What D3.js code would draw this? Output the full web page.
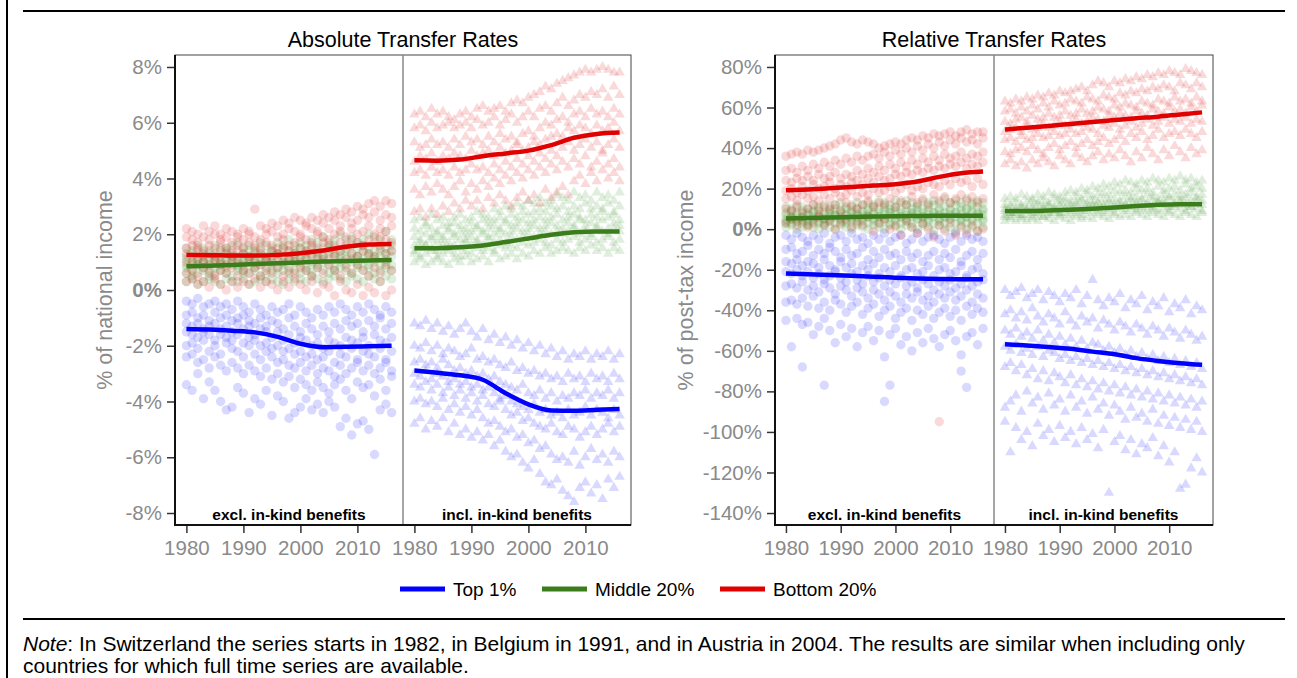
<!DOCTYPE html>
<html>
<head>
<meta charset="utf-8">
<script src="https://cdn.jsdelivr.net/npm/d3@7"></script>
<style>
  body { margin: 0; background: #fff; }
  svg { display: block; font-family: "Liberation Sans", Arial, Helvetica, sans-serif; }
</style>
</head>
<body>
<svg id="chart" width="1297" height="678"></svg>
<script>
// one row per year starting at firstYear, one value per country
const firstYear = 1980;
const tickYears = [1980, 1990, 2000, 2010];
const smoothYears = [1980, 1984, 1988, 1992, 1996, 2000, 2004, 2008, 2012, 2016];
const absTicks = [-8, -6, -4, -2, 0, 2, 4, 6, 8];
const relTicks = [-140, -120, -100, -80, -60, -40, -20, 0, 20, 40, 60, 80];
const groups = ["Top 1%", "Middle 20%", "Bottom 20%"];

// ---- absolute, excl. in-kind (% of national income)
const absExclTop = [
  "-0.4 -0.9 -1.2 -1.5 -2.0 -2.4 -3.4", "-0.5 -0.8 -1.3 -1.6 -1.9 -2.3 -3.6", "-0.3 -1.0 -1.2 -1.7 -2.1 -2.6 -3.0",
  "-0.6 -0.9 -1.4 -1.5 -1.8 -2.5 -3.9", "-0.5 -1.1 -1.3 -1.6 -2.2 -2.8 -3.3", "-0.4 -0.8 -1.2 -1.8 -2.0 -2.4 -3.6",
  "-0.6 -1.0 -1.4 -1.6 -2.3 -2.7 -4.0", "-0.5 -0.9 -1.3 -1.7 -1.9 -2.9 -4.3", "-0.7 -1.1 -1.5 -1.8 -2.1 -2.6 -4.2",
  "-0.4 -1.0 -1.2 -1.6 -2.2 -2.8 -3.5", "-0.6 -0.9 -1.4 -1.9 -2.4 -3.0 -3.7", "-0.8 -1.1 -1.3 -1.7 -2.0 -2.7 -4.4",
  "-0.5 -1.2 -1.6 -1.8 -2.3 -2.9 -3.9", "-0.7 -1.0 -1.4 -2.0 -2.5 -3.1 -4.1", "-0.9 -1.3 -1.5 -1.9 -2.2 -2.8 -3.6",
  "-0.6 -1.1 -1.7 -2.1 -2.4 -3.2 -4.5", "-0.8 -1.2 -1.5 -2.0 -2.6 -3.0 -3.8", "-0.7 -1.4 -1.8 -2.2 -2.5 -3.3 -4.0",
  "-0.5 -1.0 -1.6 -2.1 -2.7 -3.1 -4.6", "-0.9 -1.3 -1.9 -2.3 -2.8 -3.5 -4.4", "-0.6 -1.5 -1.7 -2.2 -2.6 -3.2 -4.2",
  "-0.8 -1.2 -1.8 -2.4 -2.9 -3.4 -3.9", "-1.0 -1.4 -2.0 -2.3 -2.7 -3.6 -4.3", "-0.7 -1.6 -1.9 -2.5 -3.0 -3.3 -4.1",
  "-0.9 -1.3 -2.1 -2.4 -2.8 -3.5 -4.4", "-0.6 -1.5 -1.8 -2.2 -2.9 -3.7 -4.0", "-0.8 -1.2 -1.9 -2.6 -3.1 -3.4 -4.2",
  "-0.5 -1.4 -2.0 -2.3 -2.7 -3.2 -4.9", "-0.7 -1.1 -1.7 -2.4 -3.0 -3.6 -4.6", "-0.9 -1.3 -1.8 -2.1 -2.8 -3.9 -5.2",
  "-0.6 -1.2 -1.9 -2.5 -2.6 -3.3 -4.8", "-0.8 -1.5 -1.7 -2.2 -2.9 -3.5 -4.7", "-0.5 -1.1 -2.0 -2.3 -2.7 -3.4 -5.0",
  "-0.7 -1.3 -1.6 -2.4 -3.0 -3.8 -5.9", "-0.9 -1.0 -1.8 -2.1 -2.8 -3.2 -4.3", "-0.6 -1.4 -1.9 -2.5 -2.6 -3.6 -4.1",
  "-0.8 -1.2 -1.7 -2.2 -2.9 -3.1 -4.4"
];
const absExclMid = [
  "0.3 0.6 0.8 0.9 1.1 1.2 1.5", "0.4 0.5 0.7 1.0 1.0 1.3 1.4", "0.2 0.6 0.9 0.9 1.1 1.2 1.6", "0.3 0.7 0.8 1.0 1.0 1.3 1.5",
  "0.4 0.5 0.7 0.9 1.2 1.1 1.4", "0.3 0.6 0.8 1.0 1.1 1.3 1.6", "0.2 0.7 0.9 0.9 1.0 1.2 1.5", "0.4 0.6 0.8 1.1 1.1 1.4 1.5",
  "0.3 0.5 0.9 1.0 1.2 1.3 1.6", "0.3 0.7 0.8 0.9 1.1 1.2 1.7", "0.4 0.6 0.7 1.0 1.0 1.3 1.5", "0.2 0.6 0.9 1.1 1.2 1.4 1.6",
  "0.3 0.7 0.8 1.0 1.1 1.3 1.5", "0.4 0.5 0.9 1.0 1.2 1.4 1.7", "0.3 0.6 0.8 1.1 1.1 1.3 1.6", "0.4 0.7 0.9 1.0 1.2 1.4 1.5",
  "0.3 0.6 0.8 1.1 1.3 1.3 1.7", "0.2 0.7 0.9 1.0 1.2 1.5 1.6", "0.4 0.6 0.8 1.1 1.1 1.4 1.8", "0.3 0.7 1.0 1.0 1.3 1.4 1.6",
  "0.4 0.6 0.9 1.1 1.2 1.5 1.7", "0.3 0.7 0.8 1.2 1.3 1.4 1.6", "0.5 0.6 0.9 1.0 1.2 1.5 1.8", "0.4 0.8 0.9 1.1 1.3 1.4 1.7",
  "0.3 0.7 1.0 1.2 1.2 1.5 1.9", "0.4 0.6 0.9 1.1 1.4 1.5 1.7", "0.5 0.7 0.8 1.2 1.3 1.6 1.8", "0.4 0.8 1.0 1.1 1.2 1.4 2.0",
  "0.3 0.7 0.9 1.2 1.4 1.5 1.8", "0.5 0.6 1.0 1.1 1.3 1.6 1.9", "0.4 0.8 0.9 1.2 1.2 1.5 1.7", "0.3 0.7 1.0 1.1 1.4 1.6 1.8",
  "0.5 0.8 0.9 1.2 1.3 1.5 2.0", "0.4 0.6 1.0 1.1 1.2 1.4 1.9", "0.3 0.7 0.9 1.2 1.4 1.6 1.8", "0.5 0.8 1.0 1.1 1.3 1.5 2.1",
  "0.4 0.7 0.9 1.2 1.4 1.6 1.8"
];
const absExclBot = [
  "0.3 0.6 1.0 1.3 1.5 1.9 2.2", "0.4 0.7 0.9 1.2 1.6 1.8 2.1", "0.2 0.5 1.1 1.4 1.5 1.7 2.0", "0.3 0.8 1.0 1.2 1.4 1.9 2.3",
  "0.1 0.6 0.9 1.3 1.6 1.8 2.1", "0.4 0.5 1.1 1.2 1.5 2.0 2.3", "0.2 0.7 1.0 1.4 1.7 1.8 2.0", "0.0 0.6 0.9 1.3 1.5 1.9 2.2",
  "0.3 0.8 1.1 1.2 1.4 1.7 2.1", "0.1 0.5 1.0 1.4 1.6 1.9 2.0", "0.3 0.7 0.9 1.3 1.5 1.8 2.2", "0.2 0.6 1.1 1.2 1.7 2.0 2.1",
  "0.4 0.8 1.0 1.4 1.6 1.9 2.9", "0.1 0.5 0.9 1.3 1.5 1.8 2.3", "0.3 0.7 1.1 1.2 1.7 2.0 2.2", "0.2 0.6 1.0 1.4 1.6 2.1 2.4",
  "0.0 0.8 1.2 1.3 1.5 1.9 2.3", "0.3 0.5 1.0 1.5 1.8 2.0 2.5", "0.1 0.7 1.1 1.4 1.6 2.2 2.4", "0.4 0.6 1.2 1.3 1.7 2.1 2.6",
  "0.2 0.8 1.0 1.5 1.9 2.0 2.5", "0.0 0.7 1.1 1.4 1.8 2.3 2.4", "0.3 0.5 1.3 1.6 1.7 2.2 2.6", "-0.1 0.8 1.2 1.5 2.0 2.1 2.5",
  "0.2 0.6 1.1 1.7 1.9 2.4 2.7", "0.1 0.9 1.3 1.6 1.8 2.2 2.6", "-0.2 0.7 1.2 1.5 2.0 2.5 2.8", "0.3 0.5 1.4 1.7 2.1 2.3 2.7",
  "0.0 0.8 1.1 1.6 1.9 2.6 2.9", "-0.1 0.6 1.3 1.8 2.2 2.4 2.8", "0.2 0.9 1.2 1.7 2.0 2.5 3.0", "-0.2 0.7 1.4 1.6 2.1 2.7 2.9",
  "0.1 0.5 1.3 1.8 2.3 2.6 3.1", "-0.1 0.8 1.2 1.7 2.0 2.8 3.2", "0.3 0.6 1.5 1.9 2.2 2.5 3.0", "-0.2 0.9 1.3 1.8 2.1 2.7 3.2",
  "0.0 0.7 1.4 1.7 2.3 2.6 3.1"
];

// ---- absolute, incl. in-kind
const absInclTop = [
  "-1.2 -2.0 -2.6 -3.0 -3.4 -4.0 -4.8", "-1.3 -2.1 -2.5 -3.1 -3.5 -3.9 -4.6", "-1.1 -1.9 -2.7 -2.9 -3.3 -4.1 -5.0",
  "-1.4 -2.2 -2.6 -3.2 -3.6 -4.0 -4.7", "-1.2 -2.0 -2.8 -3.0 -3.4 -4.2 -4.9", "-1.5 -2.3 -2.5 -3.1 -3.7 -3.9 -4.6",
  "-1.3 -2.1 -2.7 -3.3 -3.5 -4.3 -5.1", "-1.6 -2.2 -2.9 -3.2 -3.8 -4.1 -4.8", "-1.4 -2.4 -2.8 -3.4 -3.6 -4.4 -5.2",
  "-1.2 -2.3 -3.0 -3.3 -3.9 -4.2 -5.0", "-1.5 -2.1 -2.9 -3.5 -3.7 -4.5 -5.3", "-1.7 -2.5 -3.1 -3.4 -4.0 -4.3 -5.1",
  "-1.4 -2.4 -3.0 -3.6 -3.8 -4.6 -5.4", "-1.8 -2.6 -3.2 -3.5 -4.1 -4.8 -5.2", "-1.6 -2.5 -3.1 -3.7 -4.2 -4.7 -5.6",
  "-1.9 -2.7 -3.3 -3.9 -4.0 -4.9 -5.4", "-1.7 -2.8 -3.4 -3.8 -4.3 -5.1 -5.8", "-2.0 -2.6 -3.5 -4.0 -4.5 -5.0 -6.0",
  "-1.8 -2.9 -3.6 -4.1 -4.4 -5.3 -5.9", "-2.1 -2.8 -3.4 -4.2 -4.7 -5.2 -6.2", "-1.9 -3.0 -3.7 -4.3 -4.6 -5.5 -6.4",
  "-2.2 -2.9 -3.8 -4.1 -4.8 -5.4 -6.1", "-2.0 -3.1 -3.6 -4.4 -4.9 -5.7 -6.6", "-2.3 -3.0 -3.9 -4.3 -5.0 -5.6 -6.9",
  "-2.1 -3.2 -3.7 -4.5 -4.8 -5.9 -7.0", "-2.4 -3.1 -4.0 -4.4 -5.1 -6.1 -6.8", "-2.2 -3.3 -3.8 -4.6 -5.2 -6.0 -7.2",
  "-2.5 -3.0 -3.9 -4.3 -4.9 -6.2 -7.4", "-2.3 -3.2 -3.7 -4.5 -5.0 -5.8 -7.6", "-2.4 -3.1 -3.8 -4.4 -5.3 -6.3 -7.1",
  "-2.2 -3.3 -3.6 -4.2 -5.1 -6.0 -6.9", "-2.5 -3.0 -3.9 -4.5 -4.9 -5.7 -7.3", "-2.3 -3.2 -3.7 -4.3 -5.2 -6.1 -7.0",
  "-2.4 -3.1 -3.8 -4.4 -5.0 -5.9 -7.5", "-2.2 -3.3 -3.6 -4.6 -4.8 -6.2 -6.8", "-2.5 -3.0 -3.9 -4.3 -5.1 -5.8 -7.1",
  "-2.3 -3.2 -3.7 -4.5 -4.9 -6.0 -6.7"
];
const absInclMid = [
  "1.0 1.3 1.4 1.6 1.9 2.2 2.5", "1.1 1.2 1.5 1.7 1.8 2.1 2.6", "0.9 1.3 1.6 1.6 2.0 2.3 2.4", "1.0 1.4 1.5 1.8 1.9 2.2 2.7",
  "1.1 1.2 1.4 1.7 2.0 2.1 2.5", "1.0 1.3 1.6 1.8 1.9 2.3 2.6", "0.9 1.4 1.5 1.7 2.1 2.2 2.4", "1.1 1.3 1.6 1.9 2.0 2.4 2.6",
  "1.0 1.2 1.5 1.8 2.1 2.3 2.7", "1.2 1.4 1.7 1.8 2.0 2.2 2.5", "1.0 1.3 1.6 1.9 2.1 2.4 2.6", "1.1 1.5 1.7 1.8 2.2 2.3 2.8",
  "1.2 1.4 1.6 2.0 2.1 2.5 2.7", "1.0 1.5 1.8 1.9 2.2 2.4 2.6", "1.3 1.4 1.7 2.0 2.3 2.5 2.9", "1.1 1.6 1.8 2.1 2.2 2.6 2.8",
  "1.2 1.5 1.7 2.0 2.4 2.5 3.0", "1.3 1.6 1.9 2.1 2.3 2.7 2.9", "1.1 1.5 1.8 2.2 2.4 2.6 3.1", "1.3 1.7 1.9 2.1 2.5 2.8 3.0",
  "1.2 1.6 2.0 2.2 2.4 2.7 3.2", "1.4 1.7 1.9 2.3 2.5 2.8 3.1", "1.3 1.8 2.0 2.2 2.6 2.9 3.3", "1.5 1.7 2.1 2.3 2.5 2.8 3.1",
  "1.3 1.6 2.0 2.4 2.6 3.0 3.2", "1.4 1.8 2.1 2.3 2.7 2.9 3.4", "1.5 1.7 2.0 2.2 2.5 3.0 3.3", "1.4 1.8 2.1 2.4 2.6 2.8 3.2",
  "1.3 1.9 2.2 2.3 2.7 3.0 3.5", "1.5 1.7 2.0 2.5 2.6 2.9 3.3", "1.4 1.8 2.1 2.3 2.5 3.1 3.4", "1.6 1.9 2.0 2.4 2.7 2.9 3.2",
  "1.4 1.7 2.2 2.3 2.6 3.0 3.5", "1.5 1.8 2.1 2.5 2.8 2.9 3.3", "1.3 1.9 2.0 2.2 2.6 3.1 3.4", "1.5 1.7 2.2 2.4 2.7 2.8 3.2",
  "1.4 1.8 2.1 2.3 2.5 3.0 3.5"
];
const absInclBot = [
  "2.8 3.6 4.2 4.6 5.3 5.8 6.3", "2.9 3.4 4.3 4.8 5.1 5.9 6.4", "2.6 3.7 4.1 4.7 5.2 5.7 6.2", "2.9 3.5 4.4 4.9 5.4 6.0 6.5",
  "2.7 3.8 4.2 4.6 5.2 5.8 6.3", "3.0 3.6 4.3 4.8 5.3 5.9 6.4", "2.8 3.4 4.1 4.7 5.1 6.0 6.2", "3.1 3.7 4.4 4.9 5.4 5.8 6.1",
  "2.9 3.9 4.2 4.8 5.2 5.9 6.3", "3.2 3.5 4.3 4.7 5.5 6.0 6.4", "3.0 3.8 4.5 5.0 5.3 5.8 6.2", "3.2 3.6 4.3 4.8 5.4 6.1 6.5",
  "2.9 3.9 4.4 4.9 5.2 5.9 6.6", "3.3 3.7 4.2 5.0 5.5 6.0 6.4", "3.1 4.0 4.5 4.8 5.3 6.2 6.5", "3.4 3.8 4.3 5.1 5.6 5.9 6.6",
  "3.2 4.1 4.6 4.9 5.4 6.1 6.4", "3.0 3.9 4.4 5.0 5.5 6.3 6.7", "3.3 4.2 4.7 5.2 5.3 6.0 6.8", "3.5 4.0 4.5 5.0 5.6 6.2 6.7",
  "3.2 4.3 4.8 5.1 5.7 6.4 6.9", "3.4 4.1 4.6 5.3 5.5 6.2 7.0", "3.1 4.4 4.9 5.2 5.8 6.5 7.1", "3.6 4.2 4.7 5.4 6.0 6.6 7.3",
  "3.3 4.5 5.0 5.5 5.9 6.4 7.2", "3.5 4.3 4.8 5.6 6.1 6.7 7.4", "3.7 4.6 5.1 5.5 6.2 6.9 7.5", "3.4 4.4 5.3 5.8 6.0 6.6 7.6",
  "3.9 4.7 5.0 5.7 6.3 6.8 7.7", "4.1 4.5 5.2 5.9 6.4 7.0 7.8", "3.8 4.8 5.4 5.8 6.2 6.9 7.9", "4.2 4.4 5.1 5.6 6.5 7.1 7.8",
  "3.9 4.6 5.3 5.9 6.3 7.0 7.9", "4.3 4.9 5.0 5.7 6.4 7.2 8.0", "4.0 4.5 5.2 5.8 6.2 6.9 7.9", "4.2 4.7 5.4 6.0 6.5 7.3 7.8",
  "3.9 4.4 5.1 5.7 6.3 7.0 7.8"
];

// ---- relative, excl. in-kind (% of post-tax income)
const relExclTop = [
  "-3 -10 -16 -21 -28 -36 -45", "-5 -9 -17 -22 -27 -35 -58", "-2 -12 -15 -20 -29 -37 -44", "-4 -11 -18 -23 -26 -34 -47 -68",
  "-6 -8 -16 -21 -30 -38 -46", "-3 -13 -17 -24 -28 -33 -52", "-5 -10 -19 -22 -31 -39 -48", "-2 -12 -15 -25 -27 -36 -44 -77",
  "-7 -9 -18 -23 -29 -40 -50", "-4 -11 -20 -21 -32 -35 -56", "-3 -14 -16 -24 -28 -37 -47", "-6 -10 -19 -26 -30 -41 -53",
  "-2 -13 -17 -22 -33 -38 -49", "-5 -12 -21 -25 -29 -36 -58", "-4 -9 -18 -27 -31 -42 -51", "-7 -15 -20 -23 -34 -39 -48",
  "-3 -11 -17 -26 -30 -37 -55", "-5 -14 -22 -24 -32 -43 -50", "-2 -10 -19 -28 -35 -40 -63 -85", "-6 -13 -21 -25 -31 -38 -52 -77",
  "-4 -12 -18 -27 -33 -44 -49", "-3 -15 -23 -24 -36 -41 -57", "-7 -11 -20 -28 -32 -39 -53", "-5 -14 -19 -26 -34 -45 -60",
  "-2 -12 -22 -29 -31 -40 -51", "-6 -16 -21 -25 -35 -42 -56", "-4 -13 -18 -27 -33 -38 -49", "-3 -11 -23 -30 -36 -44 -54",
  "-5 -15 -20 -26 -32 -41 -58", "-7 -12 -19 -28 -34 -39 -52", "-4 -14 -22 -25 -31 -43 -50", "-2 -10 -21 -29 -35 -40 -55",
  "-6 -16 -18 -27 -33 -45 -62 -70", "-3 -13 -23 -24 -30 -38 -53 -78", "-5 -11 -20 -28 -36 -42 -51", "-4 -15 -19 -26 -32 -39 -57",
  "-6 -12 -22 -25 -34 -41 -49"
];
const relExclMid = [
  "1 3 4 5 7 8 11", "2 3 5 6 6 9 10", "0 4 4 5 7 8 12", "1 3 5 6 6 9 11", "2 2 4 5 7 8 10", "1 4 5 6 8 9 12",
  "0 3 4 6 7 10 11", "2 3 5 5 7 8 12", "1 4 5 6 8 9 11", "0 3 6 7 7 10 12", "2 4 5 6 8 9 13", "1 3 4 7 7 10 11",
  "0 4 5 6 8 9 12", "2 3 6 7 8 10 13", "1 4 5 6 7 9 12", "0 3 6 7 9 10 13", "2 4 5 7 8 11 12", "1 3 6 6 8 10 14",
  "0 4 5 7 9 11 13", "2 3 6 8 8 10 12", "1 4 5 7 9 11 14", "0 3 6 6 8 10 13", "2 4 5 7 9 12 14", "1 3 6 8 8 10 13",
  "0 5 5 7 9 11 12", "2 3 6 6 8 10 14", "1 4 5 7 9 11 13", "-1 3 6 8 8 12 14", "2 4 5 7 9 10 13", "0 3 6 6 8 11 15",
  "1 5 5 7 9 10 13", "-1 3 6 8 8 12 14", "2 4 5 7 9 11 13", "0 3 6 6 10 10 15", "1 4 5 8 9 12 13", "-1 3 6 7 8 11 14",
  "1 4 5 7 9 10 13"
];
const relExclBot = [
  "3 10 15 19 24 29 36", "5 9 16 20 23 30 37", "2 11 14 18 25 28 38", "4 8 17 21 24 31 37", "1 10 15 19 26 29 39",
  "3 12 16 22 24 32 38", "6 9 14 20 27 30 39", "2 11 17 21 25 33 40", "4 10 15 23 26 31 41", "0 12 18 20 28 34 42",
  "3 9 16 22 25 32 44", "5 13 17 21 27 35 45", "1 11 19 23 26 33 43", "4 10 16 24 29 36 42", "2 12 18 22 27 34 44",
  "6 14 17 25 30 36 43", "-1 11 20 23 28 37 42", "3 13 18 26 31 35 40", "5 12 19 24 29 38 41", "0 15 21 25 32 36 42",
  "2 11 18 27 30 39 43", "-3 14 20 26 33 37 42", "4 12 22 28 31 40 44", "1 16 19 27 34 38 45", "-2 13 21 29 32 41 44",
  "3 15 20 28 35 39 46", "0 12 23 30 33 42 45", "-4 17 22 29 36 40 47", "2 14 21 31 34 43 46 -95", "-1 16 24 30 37 41 47",
  "3 13 22 32 35 44 48", "-3 15 25 31 36 42 46", "1 17 23 33 38 45 48", "-2 14 24 30 35 43 49", "2 16 21 32 37 44 47",
  "-1 13 25 31 36 42 48", "0 15 22 33 38 45 48"
];

// ---- relative, incl. in-kind
const relInclTop = [
  "-30 -42 -50 -58 -68 -88 -95", "-33 -40 -52 -60 -66 -85 -110", "-31 -44 -49 -57 -70 -82 -98", "-29 -41 -53 -61 -67 -90 -104",
  "-34 -45 -51 -59 -72 -80 -100", "-32 -39 -54 -62 -69 -86 -107", "-30 -43 -50 -58 -74 -83 -96", "-35 -46 -55 -63 -70 -89 -102",
  "-31 -42 -52 -60 -75 -81 -99", "-33 -44 -56 -61 -71 -87 -105", "-36 -47 -53 -64 -73 -84 -97", "-32 -41 -57 -62 -76 -90 -103",
  "-34 -45 -54 -65 -72 -82 -100", "-30 -48 -58 -63 -77 -88 -106", "-37 -43 -55 -66 -74 -85 -98", "-33 -46 -59 -64 -78 -91 -104",
  "-25 -44 -56 -67 -75 -83 -101", "-35 -49 -57 -65 -79 -89 -108", "-38 -45 -60 -68 -76 -86 -99", "-34 -47 -58 -66 -80 -92 -130",
  "-36 -50 -61 -69 -77 -87 -105", "-32 -46 -59 -67 -81 -90 -102", "-39 -48 -62 -70 -78 -94 -109", "-35 -51 -60 -68 -82 -88 -104",
  "-37 -47 -63 -71 -79 -93 -111", "-33 -49 -61 -69 -83 -91 -106", "-40 -52 -64 -72 -80 -95 -108", "-36 -48 -62 -70 -84 -89 -103",
  "-38 -50 -65 -73 -81 -96 -112", "-34 -53 -63 -71 -85 -92 -107", "-41 -49 -66 -74 -82 -97 -115", "-37 -51 -64 -72 -86 -93 -110",
  "-39 -54 -67 -75 -83 -98 -128", "-35 -50 -65 -73 -87 -94 -126", "-42 -52 -68 -76 -84 -99 -118", "-38 -55 -66 -74 -88 -95 -113",
  "-40 -53 -69 -77 -85 -100 -120"
];
const relInclMid = [
  "4 6 7 9 10 12 15", "5 6 8 8 11 12 16", "4 7 8 9 10 13 15", "5 6 7 10 11 12 17", "4 7 9 9 10 13 16", "5 6 8 10 11 14 15",
  "4 7 8 9 12 13 17", "6 6 9 10 11 14 16", "5 7 8 11 12 13 18", "4 8 9 10 11 15 17", "6 7 8 11 12 14 16", "5 8 10 10 13 15 18",
  "4 7 9 11 12 14 19", "6 8 10 12 13 16 18", "5 7 9 11 14 15 20", "6 9 10 12 13 17 19", "5 8 11 12 14 16 21", "7 9 10 13 13 17 20",
  "6 8 11 12 15 18 22", "5 9 10 13 14 17 21", "7 8 11 12 15 19 23", "6 10 11 13 14 18 22", "7 9 12 12 16 19 24", "6 10 11 14 15 18 23",
  "8 9 12 13 16 20 22", "7 10 11 14 15 19 24", "6 9 12 13 17 20 23", "8 10 11 14 16 18 25", "7 9 13 13 15 21 24", "6 10 12 14 17 19 23",
  "8 9 11 15 16 20 25", "7 11 12 13 17 21 24", "6 10 13 14 16 19 26", "8 9 12 15 17 22 24", "7 11 11 14 18 20 25", "6 10 13 15 16 21 23",
  "8 9 12 14 17 20 24"
];
const relInclBot = [
  "32 38 44 48 53 58 63", "34 37 45 49 52 59 62", "31 39 43 50 54 57 64", "33 40 46 48 55 60 63", "30 38 44 51 53 58 65",
  "34 41 45 49 56 61 64", "32 39 47 50 54 59 66", "35 37 45 52 55 62 65", "33 40 46 50 57 60 67", "31 42 48 51 55 63 66",
  "36 39 46 53 56 61 68", "34 41 47 51 58 62 67", "32 43 49 52 56 64 68", "37 40 47 54 57 63 69", "35 42 48 52 59 62 70",
  "33 44 50 53 57 65 68", "36 41 49 55 58 64 71", "38 43 47 54 60 63 73", "34 45 51 53 59 66 72", "37 42 50 56 58 65 70",
  "35 44 52 55 61 64 73", "39 46 49 57 60 67 72", "36 43 51 56 62 66 74", "33 47 53 55 61 68 73", "38 45 50 58 60 67 75",
  "35 48 52 57 63 69 74", "40 44 54 56 62 68 76", "37 46 51 59 61 70 75", "34 49 53 58 64 69 77", "39 45 55 57 63 71 76",
  "36 47 52 60 62 70 78", "41 48 54 58 65 68 77", "38 46 53 59 63 72 76", "35 49 55 57 64 71 79", "40 47 52 60 62 69 78",
  "37 45 54 58 65 72 77", "39 48 53 61 63 70 76"
];

// smoothed averages at smoothYears
const absExclTopLine = [-1.40, -1.42, -1.46, -1.52, -1.68, -1.93, -2.05, -2.04, -2.02, -2.00];
const absExclMidLine = [0.85, 0.87, 0.90, 0.93, 0.96, 0.99, 1.02, 1.04, 1.06, 1.08];
const absExclBotLine = [1.26, 1.25, 1.24, 1.24, 1.26, 1.32, 1.42, 1.55, 1.63, 1.65];
const absInclTopLine = [-2.89, -2.97, -3.06, -3.22, -3.70, -4.10, -4.32, -4.33, -4.30, -4.27];
const absInclMidLine = [1.50, 1.50, 1.53, 1.60, 1.72, 1.85, 1.98, 2.07, 2.10, 2.10];
const absInclBotLine = [4.65, 4.64, 4.68, 4.80, 4.90, 5.00, 5.20, 5.46, 5.60, 5.65];
const relExclTopLine = [-21.9, -22.2, -22.6, -23.0, -23.5, -23.9, -24.3, -24.6, -24.7, -24.7];
const relExclMidLine = [5.3, 5.5, 5.8, 6.0, 6.2, 6.4, 6.5, 6.6, 6.6, 6.6];
const relExclBotLine = [19.2, 19.6, 20.2, 20.8, 21.5, 22.2, 23.5, 25.8, 27.6, 28.4];
const relInclTopLine = [-56.7, -57.4, -58.1, -59.0, -60.4, -61.7, -63.6, -65.0, -66.1, -66.9];
const relInclMidLine = [9.0, 9.0, 9.2, 9.6, 10.1, 10.7, 11.4, 12.0, 12.3, 12.3];
const relInclBotLine = [49.2, 50.0, 50.9, 51.9, 52.9, 53.8, 54.7, 55.5, 56.6, 57.6];

const lineColors = ["#0000ff", "#3a7d1a", "#e00000"];
const pointColors = ["#0000ff", "#2e8a1c", "#d40000"];

const svg = d3.select("#chart");

function toPoints(rows) {
    return rows.flatMap((r, i) => r.trim().split(/\s+/).map(v => ({year: firstYear + i, value: +v})));
}

const panels = [
    {
        title: "Absolute Transfer Rates", ylabel: "% of national income",
        left: 175, mid: 403, right: 631, labelX: 104,
        yDomain: [-8.43, 8.43], ticks: absTicks,
        excl: [absExclTop, absExclMid, absExclBot], incl: [absInclTop, absInclMid, absInclBot],
        exclLines: [absExclTopLine, absExclMidLine, absExclBotLine], inclLines: [absInclTopLine, absInclMidLine, absInclBotLine]
    },
    {
        title: "Relative Transfer Rates", ylabel: "% of post-tax income",
        left: 775, mid: 994, right: 1213, labelX: 685,
        yDomain: [-145.9, 85.9], ticks: relTicks,
        excl: [relExclTop, relExclMid, relExclBot], incl: [relInclTop, relInclMid, relInclBot],
        exclLines: [relExclTopLine, relExclMidLine, relExclBotLine], inclLines: [relInclTopLine, relInclMidLine, relInclBotLine]
    }
];

const plotTop = 55, plotBottom = 525;

panels.forEach(p => {
    let g = svg.append("g");
    let y = d3.scaleLinear().domain(p.yDomain).range([plotBottom, plotTop]);
    let subs = [
        {x: d3.scaleLinear().domain([1978, 2018]).range([p.left, p.mid]), clouds: p.excl, lines: p.exclLines,
            label: "excl. in-kind benefits", shape: "circle"},
        {x: d3.scaleLinear().domain([1978, 2018]).range([p.mid, p.right]), clouds: p.incl, lines: p.inclLines,
            label: "incl. in-kind benefits", shape: "triangle"}
    ];

    g.append("rect")
        .attr("x", p.left).attr("y", plotTop)
        .attr("width", p.right - p.left).attr("height", plotBottom - plotTop)
        .attr("fill", "none").attr("stroke", "#444").attr("stroke-width", 1);

    subs.forEach(s => {
        s.clouds.forEach((rows, gi) => {
            let pts = toPoints(rows);
            if (s.shape === "circle") {
                g.append("g").selectAll("circle")
                    .data(pts).join("circle")
                    .attr("cx", d => s.x(d.year))
                    .attr("cy", d => y(d.value))
                    .attr("r", 4.7)
                    .attr("fill", pointColors[gi])
                    .attr("fill-opacity", 0.15);
            } else {
                let sym = d3.symbol(d3.symbolTriangle, 48);
                g.append("g").selectAll("path")
                    .data(pts).join("path")
                    .attr("d", sym)
                    .attr("transform", d => "translate(" + s.x(d.year) + "," + y(d.value) + ")")
                    .attr("fill", pointColors[gi])
                    .attr("fill-opacity", 0.15);
            }
        });
        let line = d3.line()
            .x((d, i) => s.x(smoothYears[i]))
            .y(d => y(d))
            .curve(d3.curveMonotoneX);
        s.lines.forEach((vals, gi) => {
            g.append("path")
                .attr("d", line(vals))
                .attr("fill", "none")
                .attr("stroke", lineColors[gi])
                .attr("stroke-width", 4.5);
        });

        let xa = g.append("g")
            .attr("transform", "translate(0," + plotBottom + ")")
            .call(d3.axisBottom(s.x).tickValues(tickYears).tickFormat(d3.format("d")).tickSize(8).tickPadding(7));
        xa.select(".domain").remove();
        xa.selectAll(".tick line").attr("stroke", "#333").attr("stroke-width", 1.5);
        xa.selectAll("text").attr("fill", "#8a8a8a").style("font-size", "20.5px");

        g.append("text")
            .attr("x", (s.x.range()[0] + s.x.range()[1]) / 2)
            .attr("y", 520)
            .attr("text-anchor", "middle")
            .style("font-size", "15.5px").style("font-weight", "bold")
            .text(s.label);
    });

    g.append("line")
        .attr("x1", p.mid).attr("x2", p.mid).attr("y1", plotTop).attr("y2", plotBottom)
        .attr("stroke", "#888").attr("stroke-width", 1.5);

    let ya = g.append("g")
        .attr("transform", "translate(" + p.left + ",0)")
        .call(d3.axisLeft(y).tickValues(p.ticks).tickFormat(d => d + "%").tickSize(8).tickPadding(5));
    ya.select(".domain").remove();
    ya.selectAll(".tick line").attr("stroke", "#333").attr("stroke-width", 1.5);
    ya.selectAll("text").attr("fill", "#8a8a8a").style("font-size", "20.5px")
        .style("font-weight", d => d === 0 ? "bold" : "normal");

    // axis lines
    g.append("line").attr("x1", p.left).attr("x2", p.left).attr("y1", plotTop).attr("y2", plotBottom + 1)
        .attr("stroke", "#111").attr("stroke-width", 2);
    g.append("line").attr("x1", p.left - 1).attr("x2", p.right).attr("y1", plotBottom).attr("y2", plotBottom)
        .attr("stroke", "#111").attr("stroke-width", 2);

    g.append("text")
        .attr("x", (p.left + p.right) / 2).attr("y", 47)
        .attr("text-anchor", "middle")
        .style("font-size", "21.5px")
        .text(p.title);

    g.append("text")
        .attr("transform", "translate(" + p.labelX + "," + (plotTop + plotBottom) / 2 + ") rotate(-90)")
        .attr("text-anchor", "middle")
        .attr("dy", "0.35em")
        .attr("fill", "#8a8a8a")
        .style("font-size", "21.5px")
        .text(p.ylabel);
});

// legend
const legendX = [400, 542, 720];
let lg = svg.append("g");
groups.forEach((name, i) => {
    lg.append("line")
        .attr("x1", legendX[i]).attr("x2", legendX[i] + 45)
        .attr("y1", 589).attr("y2", 589)
        .attr("stroke", lineColors[i]).attr("stroke-width", 5);
    lg.append("text")
        .attr("x", legendX[i] + 53).attr("y", 596)
        .style("font-size", "19px")
        .text(name);
});

// outer rules
svg.append("line").attr("x1", 7).attr("x2", 7).attr("y1", 0).attr("y2", 678)
    .attr("stroke", "#000").attr("stroke-width", 2);
svg.append("line").attr("x1", 23).attr("x2", 1285).attr("y1", 11).attr("y2", 11)
    .attr("stroke", "#000").attr("stroke-width", 2);
svg.append("line").attr("x1", 23).attr("x2", 1285).attr("y1", 619).attr("y2", 619)
    .attr("stroke", "#000").attr("stroke-width", 2);

// note
let note = svg.append("text").attr("x", 23).attr("y", 651).style("font-size", "21px");
note.append("tspan").style("font-style", "italic").text("Note");
note.append("tspan").text(": In Switzerland the series starts in 1982, in Belgium in 1991, and in Austria in 2004. The results are similar when including only");
svg.append("text").attr("x", 23).attr("y", 673).style("font-size", "21px")
    .text("countries for which full time series are available.");
</script>
</body>
</html>
